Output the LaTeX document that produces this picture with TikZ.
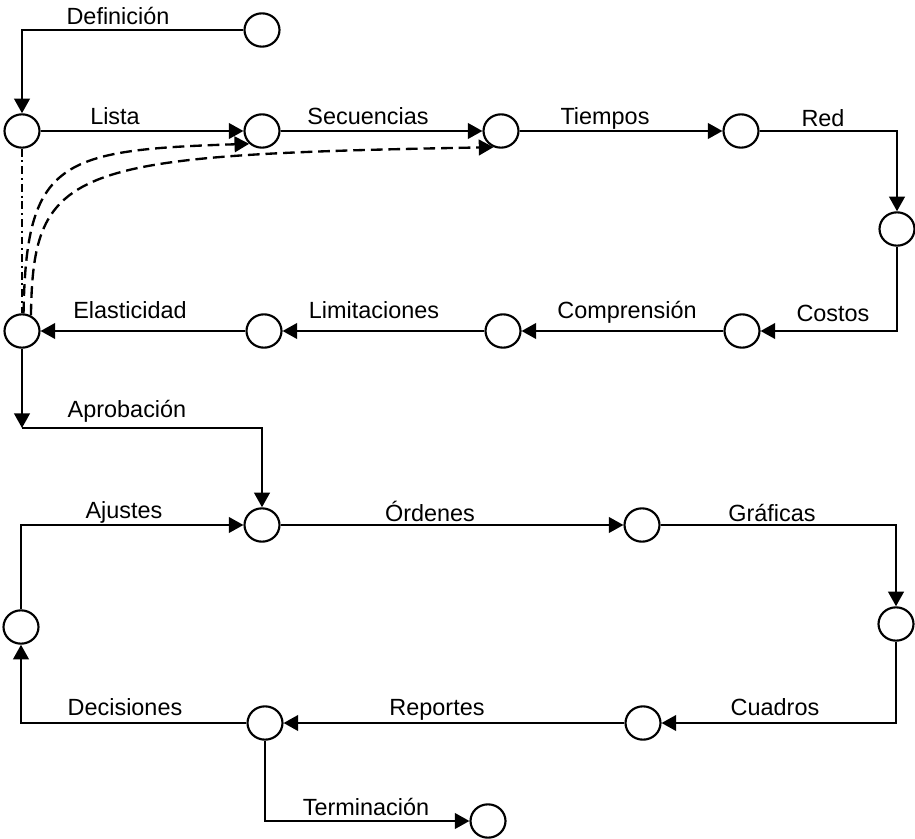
\documentclass[tikz,border=0pt]{standalone}
\usepackage{fontspec}
\setmainfont{Liberation Sans}
\usetikzlibrary{arrows.meta,shapes.geometric}

\tikzset{
  evento/.style={draw, ellipse, line width=1.1pt, minimum width=0.63cm, minimum height=0.6cm, inner sep=0pt},
  tarea/.style={anchor=base, font=\fontsize{12}{14}\selectfont, inner sep=0pt},
  flecha/.style={line width=1.2pt, -{Triangle[length=7.5pt, width=8pt]}},
  holgura/.style={flecha, dash pattern=on 6pt off 3pt},
  enlace/.style={line width=0.8pt, dash pattern=on 4pt off 2pt on 1pt off 2pt}
}

\begin{document}
\begin{tikzpicture}[x=0.018cm, y=-0.018cm]
\useasboundingbox (0,0) rectangle (915,839);

% Draw the events (circles)
\node[evento] (ini) at (262, 30) {};
\node[evento] (a1) at (22, 131) {};
\node[evento] (a2) at (262, 131) {};
\node[evento] (a3) at (501, 131) {};
\node[evento] (a4) at (741, 131) {};
\node[evento] (a5) at (897, 229) {};
\node[evento] (b4) at (742, 331) {};
\node[evento] (b3) at (503, 331) {};
\node[evento] (b2) at (264, 331) {};
\node[evento] (b1) at (22, 331) {};
\coordinate (k1) at (22, 428);
\node[evento] (c1) at (262, 525) {};
\node[evento] (c2) at (642, 525) {};
\node[evento] (c3) at (896, 624) {};
\node[evento] (d2) at (643, 723) {};
\node[evento] (d1) at (265, 723) {};
\node[evento] (e1) at (21, 627) {};
\node[evento] (fin) at (488, 821) {};

% Draw the activities
\draw[flecha] (ini.west) -| (a1.north);
\draw[flecha] (a1) -- (a2);
\draw[flecha] (a2) -- (a3);
\draw[flecha] (a3) -- (a4);
\draw[flecha] (a4.east) -| (a5.north);
\draw[flecha] (a5.south) |- (b4.east);
\draw[flecha] (b4) -- (b3);
\draw[flecha] (b3) -- (b2);
\draw[flecha] (b2) -- (b1);
\draw[flecha] (b1.south) -- (k1);
\draw[flecha] (k1) -| (c1.north);
\draw[flecha] (e1.north) |- (c1.west);
\draw[flecha] (c1) -- (c2);
\draw[flecha] (c2.east) -| (c3.north);
\draw[flecha] (c3.south) |- (d2.east);
\draw[flecha] (d2) -- (d1);
\draw[flecha] (d1.west) -| (e1.south);
\draw[flecha] (d1.south) |- (fin.west);

% Dummy links
\draw[enlace] (a1.south) -- (b1.north);
\draw[holgura] (b1.85) .. controls (26, 160) and (60, 150) .. (a2.225);
\draw[holgura] (b1.60) .. controls (33, 165) and (70, 155) .. (a3.245);

% Labels
\node[tarea] (tdef) at (118, 25) {Definición};
\node[tarea] (tlis) at (115, 125) {Lista};
\node[tarea] (tsec) at (368, 125) {Secuencias};
\node[tarea] (ttie) at (605, 125) {Tiempos};
\node[tarea] (tred) at (823, 127) {Red};
\node[tarea] (tcos) at (833, 322) {Costos};
\node[tarea] (tcom) at (627, 319) {Comprensión};
\node[tarea] (tlim) at (374, 319) {Limitaciones};
\node[tarea] (tela) at (130, 319) {Elasticidad};
\node[tarea] (tapr) at (127, 417) {Aprobación};
\node[tarea] (taju) at (124, 518) {Ajustes};
\node[tarea] (tord) at (430, 521) {Órdenes};
\node[tarea] (tgra) at (772, 521) {Gráficas};
\node[tarea] (tcua) at (775, 715) {Cuadros};
\node[tarea] (trep) at (437, 715) {Reportes};
\node[tarea] (tdec) at (125, 715) {Decisiones};
\node[tarea] (tter) at (366, 815) {Terminación};
\end{tikzpicture}
\end{document}
